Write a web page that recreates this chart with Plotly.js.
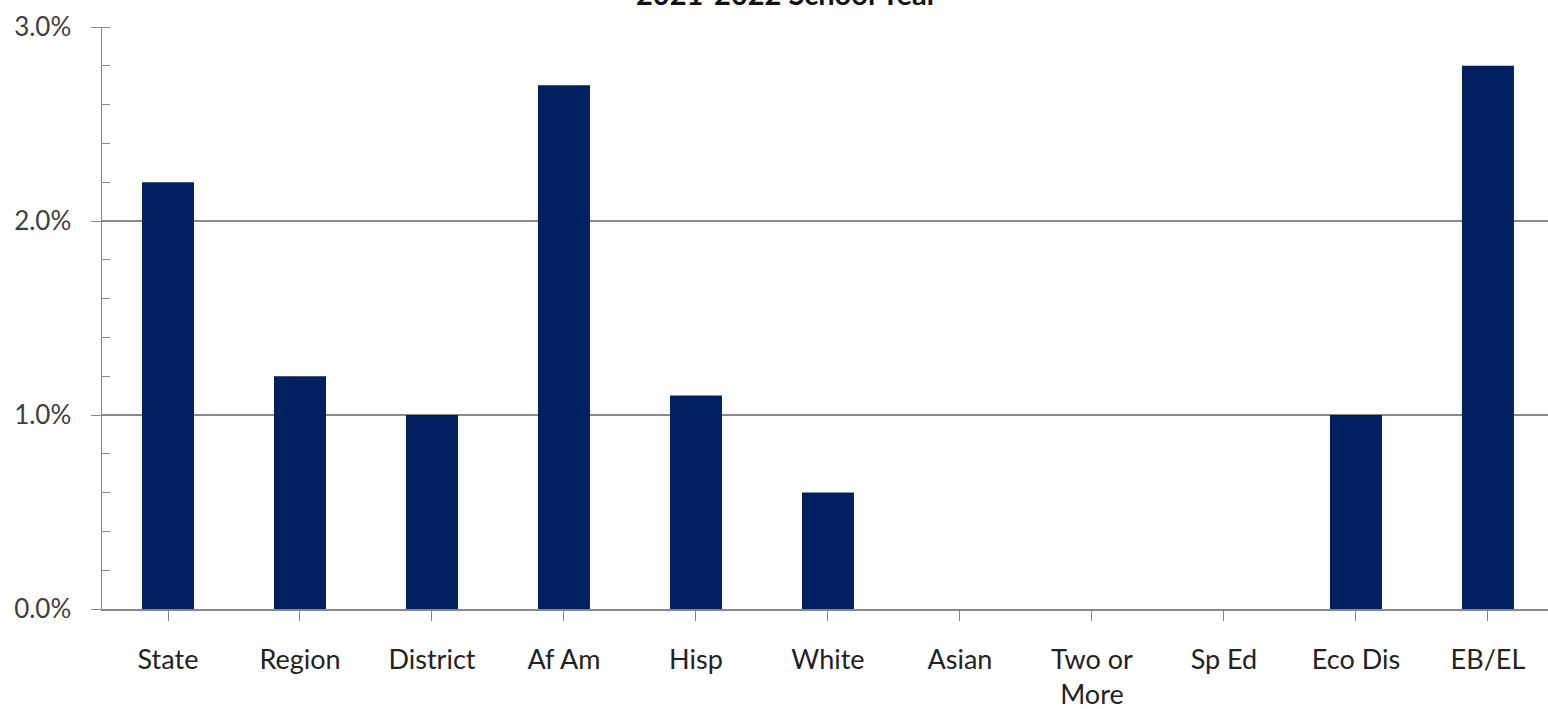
<!DOCTYPE html>
<html>
<head>
<meta charset="utf-8">
<script src="https://cdn.plot.ly/plotly-3.0.1.min.js"></script>
<style>html,body{margin:0;padding:0;background:#fff;}#chart{width:1548px;height:709px;}</style>
</head>
<body>
<div id="chart"></div>
<script>
const categories = ["State", "Region", "District", "Af Am", "Hisp", "White", "Asian", "Two or<br>More", "Sp Ed", "Eco Dis", "EB/EL"];
const values = [0.022, 0.012, 0.010, 0.027, 0.011, 0.006, 0, 0, 0, 0.010, 0.028];
const yTickVals = [0, 0.01, 0.02, 0.03];
const yTickText = ["0.0%", "1.0%", "2.0%", "3.0%"];
const chartTitle = "2021-2022 School Year";

const trace = {
  type: "bar",
  x: categories.map((c, i) => i),
  y: values,
  marker: { color: "#002060" },
  hoverinfo: "skip"
};

const layout = {
  width: 1548,
  height: 709,
  margin: { l: 102, r: 0, t: 27, b: 100 },
  paper_bgcolor: "#ffffff",
  plot_bgcolor: "#ffffff",
  bargap: 0.606,
  showlegend: false,
  font: { family: "Lato, 'Open Sans', sans-serif", color: "#222" },
  annotations: [{
    text: "<b>" + chartTitle + "</b>",
    font: { size: 29, color: "#111" },
    xref: "paper", yref: "paper",
    x: 0.474, xanchor: "center",
    y: 1.058, yanchor: "middle",
    showarrow: false
  }],
  xaxis: {
    range: [-0.5, 10.455],
    tickmode: "array",
    tickvals: categories.map((c, i) => i),
    ticktext: categories,
    tickson: "boundaries",
    ticks: "outside",
    ticklen: 10,
    tickcolor: "#888",
    showline: true,
    linecolor: "#888",
    linewidth: 1.5,
    showgrid: false,
    zeroline: false,
    tickfont: { size: 27, color: "#222" },
    ticklabelstandoff: 16,
    fixedrange: true
  },
  yaxis: {
    range: [0, 0.03],
    tickmode: "array",
    tickvals: yTickVals,
    ticktext: yTickText,
    ticks: "outside",
    ticklen: 10,
    tickcolor: "#888",
    showline: true,
    linecolor: "#888",
    linewidth: 1.5,
    showgrid: true,
    gridcolor: "#8a8a8a",
    gridwidth: 1.2,
    zeroline: false,
    tickfont: { size: 26, color: "#404040" },
    ticklabelstandoff: 14,
    minor: { ticks: "inside", dtick: 0.002, tick0: 0, ticklen: 8, tickcolor: "#888", showgrid: false },
    fixedrange: true
  }
};

Plotly.newPlot("chart", [trace], layout, { displayModeBar: false, staticPlot: true });
</script>
</body>
</html>
